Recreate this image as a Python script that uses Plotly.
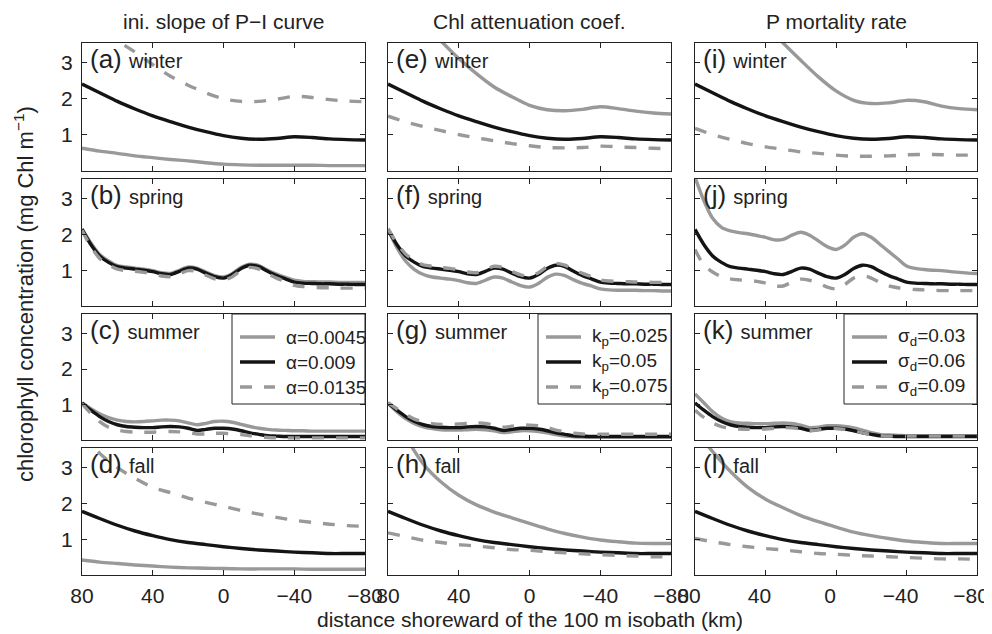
import plotly.graph_objects as go

# ---------------- data ----------------
x_coarse = [80, 70, 60, 50, 40, 30, 20, 10, 0, -10, -20, -30, -40, -50, -60, -70, -80]
x_fine = [80, 75, 70, 65, 60, 55, 50, 45, 40, 35, 30, 25, 20, 15, 10, 5, 0,
          -5, -10, -15, -20, -25, -30, -35, -40, -45, -50, -55, -60, -65, -70, -75, -80]

# winter (coarse grid)
winter_base = [2.41, 2.17, 1.93, 1.72, 1.53, 1.37, 1.22, 1.09, 0.98, 0.91, 0.88, 0.90, 0.95, 0.93, 0.89, 0.87, 0.86]
winter_alpha_lo = [0.63, 0.55, 0.49, 0.42, 0.37, 0.32, 0.28, 0.23, 0.19, 0.17, 0.16, 0.16, 0.16, 0.16, 0.15, 0.15, 0.15]
winter_alpha_hi = [4.10, 3.85, 3.60, 3.30, 2.95, 2.63, 2.38, 2.17, 2.00, 1.93, 1.93, 1.99, 2.07, 2.04, 1.98, 1.94, 1.92]
winter_kp_lo = [5.10, 4.60, 4.10, 3.60, 3.12, 2.70, 2.33, 2.06, 1.82, 1.70, 1.67, 1.71, 1.78, 1.73, 1.66, 1.61, 1.58]
winter_kp_hi = [1.52, 1.36, 1.23, 1.12, 1.01, 0.92, 0.84, 0.76, 0.70, 0.65, 0.64, 0.65, 0.69, 0.67, 0.65, 0.63, 0.62]
winter_sd_lo = [5.20, 4.95, 4.70, 4.40, 4.05, 3.55, 3.07, 2.61, 2.22, 1.96, 1.87, 1.89, 1.96, 1.92, 1.80, 1.73, 1.70]
winter_sd_hi = [1.18, 1.01, 0.88, 0.76, 0.67, 0.60, 0.53, 0.49, 0.44, 0.41, 0.41, 0.42, 0.45, 0.46, 0.45, 0.44, 0.44]

# spring (fine grid)
spring_base = [2.14, 1.72, 1.40, 1.22, 1.10, 1.06, 1.03, 1.00, 0.96, 0.90, 0.88, 0.97, 1.06, 1.03, 0.92, 0.82, 0.78,
               0.88, 1.05, 1.14, 1.10, 0.97, 0.85, 0.76, 0.67, 0.64, 0.63, 0.62, 0.62, 0.61, 0.61, 0.60, 0.60]
spring_alpha_lo = [2.16, 1.76, 1.44, 1.26, 1.13, 1.09, 1.06, 1.03, 0.99, 0.93, 0.91, 1.00, 1.09, 1.06, 0.95, 0.85, 0.81,
                   0.91, 1.08, 1.17, 1.13, 1.00, 0.89, 0.80, 0.72, 0.69, 0.68, 0.67, 0.67, 0.66, 0.66, 0.66, 0.66]
spring_alpha_hi = [2.12, 1.66, 1.33, 1.15, 1.03, 0.99, 0.97, 0.94, 0.90, 0.84, 0.82, 0.90, 0.99, 0.97, 0.86, 0.76, 0.72,
                   0.82, 0.99, 1.08, 1.03, 0.90, 0.78, 0.68, 0.58, 0.54, 0.52, 0.51, 0.51, 0.50, 0.50, 0.50, 0.50]
spring_kp_lo = [2.14, 1.64, 1.25, 1.02, 0.88, 0.81, 0.78, 0.75, 0.71, 0.65, 0.63, 0.72, 0.81, 0.78, 0.67, 0.57, 0.53,
                0.63, 0.80, 0.89, 0.85, 0.73, 0.63, 0.56, 0.48, 0.45, 0.44, 0.44, 0.44, 0.43, 0.43, 0.42, 0.42]
spring_kp_hi = [2.16, 1.76, 1.45, 1.27, 1.15, 1.11, 1.08, 1.05, 1.01, 0.95, 0.93, 1.02, 1.11, 1.08, 0.97, 0.87, 0.83,
                0.93, 1.10, 1.19, 1.14, 1.02, 0.91, 0.82, 0.73, 0.70, 0.69, 0.68, 0.67, 0.67, 0.66, 0.66, 0.66]
spring_sd_lo = [3.60, 2.95, 2.45, 2.20, 2.10, 2.05, 2.02, 1.97, 1.92, 1.85, 1.86, 1.98, 2.06, 1.98, 1.82, 1.66, 1.58,
                1.70, 1.92, 2.02, 1.92, 1.72, 1.52, 1.32, 1.12, 1.05, 1.02, 1.00, 0.99, 0.96, 0.94, 0.92, 0.91]
spring_sd_hi = [1.58, 1.15, 0.95, 0.82, 0.76, 0.73, 0.71, 0.69, 0.64, 0.56, 0.56, 0.67, 0.75, 0.72, 0.64, 0.53, 0.48,
                0.60, 0.78, 0.85, 0.78, 0.65, 0.56, 0.51, 0.48, 0.46, 0.45, 0.44, 0.43, 0.43, 0.43, 0.43, 0.43]

# summer (fine grid)
summer_base = [1.04, 0.84, 0.66, 0.52, 0.43, 0.38, 0.36, 0.35, 0.35, 0.37, 0.38, 0.37, 0.33, 0.27, 0.30, 0.33, 0.33,
               0.31, 0.26, 0.20, 0.16, 0.12, 0.11, 0.10, 0.10, 0.10, 0.10, 0.10, 0.10, 0.10, 0.10, 0.10, 0.10]
summer_alpha_lo = [1.05, 0.88, 0.74, 0.63, 0.56, 0.52, 0.51, 0.52, 0.54, 0.56, 0.56, 0.54, 0.48, 0.43, 0.47, 0.52, 0.53,
                   0.50, 0.44, 0.38, 0.33, 0.30, 0.28, 0.27, 0.26, 0.26, 0.25, 0.25, 0.25, 0.25, 0.25, 0.25, 0.25]
summer_alpha_hi = [1.02, 0.75, 0.52, 0.36, 0.28, 0.24, 0.22, 0.22, 0.22, 0.23, 0.24, 0.23, 0.20, 0.17, 0.17, 0.19, 0.19,
                   0.17, 0.15, 0.12, 0.09, 0.07, 0.06, 0.06, 0.06, 0.06, 0.06, 0.06, 0.06, 0.06, 0.06, 0.06, 0.06]
summer_kp_lo = [1.03, 0.80, 0.60, 0.46, 0.37, 0.32, 0.29, 0.28, 0.28, 0.29, 0.30, 0.29, 0.26, 0.21, 0.23, 0.26, 0.26,
                0.24, 0.20, 0.15, 0.11, 0.09, 0.08, 0.08, 0.08, 0.08, 0.08, 0.08, 0.08, 0.08, 0.08, 0.08, 0.08]
summer_kp_hi = [1.05, 0.88, 0.72, 0.59, 0.51, 0.46, 0.44, 0.44, 0.45, 0.47, 0.48, 0.47, 0.42, 0.36, 0.39, 0.42, 0.42,
                0.40, 0.35, 0.28, 0.23, 0.19, 0.17, 0.16, 0.16, 0.16, 0.16, 0.16, 0.16, 0.16, 0.16, 0.16, 0.16]
summer_sd_lo = [1.30, 1.05, 0.80, 0.62, 0.52, 0.48, 0.47, 0.46, 0.46, 0.47, 0.48, 0.47, 0.42, 0.35, 0.36, 0.40, 0.40,
                0.38, 0.34, 0.28, 0.21, 0.16, 0.14, 0.13, 0.12, 0.12, 0.12, 0.12, 0.12, 0.12, 0.12, 0.12, 0.12]
summer_sd_hi = [0.84, 0.64, 0.48, 0.38, 0.33, 0.31, 0.30, 0.30, 0.31, 0.33, 0.35, 0.34, 0.31, 0.26, 0.28, 0.32, 0.32,
                0.30, 0.26, 0.20, 0.15, 0.12, 0.11, 0.11, 0.11, 0.11, 0.11, 0.11, 0.11, 0.11, 0.11, 0.11, 0.11]

# fall (coarse grid)
fall_base = [1.78, 1.58, 1.39, 1.23, 1.10, 0.99, 0.91, 0.85, 0.79, 0.74, 0.70, 0.67, 0.64, 0.62, 0.60, 0.60, 0.60]
fall_alpha_lo = [0.42, 0.36, 0.32, 0.28, 0.25, 0.22, 0.20, 0.19, 0.18, 0.17, 0.17, 0.17, 0.17, 0.16, 0.16, 0.16, 0.16]
fall_alpha_hi = [3.95, 3.40, 3.00, 2.70, 2.45, 2.30, 2.15, 2.03, 1.92, 1.80, 1.70, 1.61, 1.53, 1.47, 1.42, 1.38, 1.36]
fall_kp_lo = [4.60, 3.85, 3.10, 2.60, 2.23, 1.96, 1.76, 1.60, 1.44, 1.29, 1.16, 1.06, 0.98, 0.93, 0.89, 0.88, 0.88]
fall_kp_hi = [1.18, 1.07, 0.97, 0.91, 0.85, 0.81, 0.76, 0.71, 0.69, 0.65, 0.62, 0.59, 0.57, 0.55, 0.53, 0.51, 0.51]
fall_sd_lo = [4.05, 3.45, 2.90, 2.45, 2.12, 1.88, 1.66, 1.49, 1.34, 1.20, 1.10, 1.02, 0.95, 0.91, 0.88, 0.88, 0.88]
fall_sd_hi = [1.02, 0.93, 0.85, 0.79, 0.74, 0.70, 0.65, 0.60, 0.58, 0.55, 0.53, 0.51, 0.49, 0.47, 0.45, 0.45, 0.44]

seasons = ["winter", "spring", "summer", "fall"]
column_titles = ["ini. slope of P\u2212I curve", "Chl attenuation coef.", "P mortality rate"]
panel_letters = [["a", "b", "c", "d"], ["e", "f", "g", "h"], ["i", "j", "k", "l"]]
legend_labels = [
    ["\u03b1=0.0045", "\u03b1=0.009", "\u03b1=0.0135"],
    ["k<sub>p</sub>=0.025", "k<sub>p</sub>=0.05", "k<sub>p</sub>=0.075"],
    ["\u03c3<sub>d</sub>=0.03", "\u03c3<sub>d</sub>=0.06", "\u03c3<sub>d</sub>=0.09"],
]
x_tick_vals = [80, 40, 0, -40, -80]
y_tick_vals = [1, 2, 3]
x_title = "distance shoreward of the 100 m isobath (km)"
y_title = "chlorophyll concentration (mg Chl m<sup>\u22121</sup>)"

season_x = {"winter": x_coarse, "spring": x_fine, "summer": x_fine, "fall": x_coarse}
series = {
    "winter": (winter_base, [(winter_alpha_lo, winter_alpha_hi), (winter_kp_lo, winter_kp_hi), (winter_sd_lo, winter_sd_hi)]),
    "spring": (spring_base, [(spring_alpha_lo, spring_alpha_hi), (spring_kp_lo, spring_kp_hi), (spring_sd_lo, spring_sd_hi)]),
    "summer": (summer_base, [(summer_alpha_lo, summer_alpha_hi), (summer_kp_lo, summer_kp_hi), (summer_sd_lo, summer_sd_hi)]),
    "fall": (fall_base, [(fall_alpha_lo, fall_alpha_hi), (fall_kp_lo, fall_kp_hi), (fall_sd_lo, fall_sd_hi)]),
}

# ---------------- layout geometry ----------------
# page body has an 8px margin, so the figure is 8px smaller on each axis and
# screen positions are converted by subtracting that offset
OFF = 8
W, H = 992 - OFF, 634 - OFF
col_px = [(82, 365), (388, 671), (695, 977)]
row_px = [(43, 171), (179, 306), (314, 440), (448, 575)]
col_label_shift = [0, 0, 6]
GRAY = "#999999"
BLACK = "#141414"
AX = "#222222"
FONT = "Liberation Sans, Arial, Helvetica, sans-serif"
LW = 3.4


def px_x(p):
    return (p - OFF) / W


def px_y(p):
    return 1 - (p - OFF) / H


fig = go.Figure()
layout = dict(
    width=W, height=H, margin=dict(l=0, r=0, t=0, b=0, autoexpand=False),
    paper_bgcolor="white", plot_bgcolor="white", showlegend=False,
    font=dict(family=FONT, size=20, color=AX),
)
annotations = []
shapes = []

styles = [
    dict(color=GRAY, width=LW, dash="solid"),
    dict(color=BLACK, width=LW, dash="solid"),
    dict(color=GRAY, width=LW, dash="12px,12px"),
]

k = 0
for c in range(3):
    for r, season in enumerate(seasons):
        k += 1
        xa = "x" if k == 1 else f"x{k}"
        ya = "y" if k == 1 else f"y{k}"
        base, variants = series[season]
        lo, hi = variants[c]
        xs = season_x[season]
        for ys, st in ((lo, styles[0]), (base, styles[1]), (hi, styles[2])):
            fig.add_trace(go.Scatter(
                x=xs, y=ys, mode="lines", xaxis=xa, yaxis=ya,
                line=dict(color=st["color"], width=st["width"], dash=st["dash"], shape="spline", smoothing=0.8),
                hoverinfo="skip",
            ))
        x0, x1 = col_px[c]
        y0, y1 = row_px[r]
        common = dict(showline=True, mirror="ticks", linecolor=AX, linewidth=1.3,
                      ticks="inside", ticklen=5, tickwidth=1.3, tickcolor=AX,
                      showgrid=False, zeroline=False, fixedrange=True, automargin=False,
                      ticklabeloverflow="allow",
                      tickfont=dict(family=FONT, size=21, color=AX))
        layout[f"xaxis{'' if k == 1 else k}"] = dict(
            common, domain=[px_x(x0), px_x(x1)], anchor=ya, range=[80, -80],
            tickvals=x_tick_vals, showticklabels=(r == 3), ticklabelstandoff=2,
            ticklabelshift=col_label_shift[c])
        layout[f"yaxis{'' if k == 1 else k}"] = dict(
            common, domain=[px_y(y1), px_y(y0)], anchor=xa, range=[0, 3.55],
            tickvals=y_tick_vals, showticklabels=(c == 0), ticklabelstandoff=4)
        # panel label
        annotations.append(dict(
            xref="paper", yref="paper", x=px_x(x0 + 6), y=px_y(y0 + 16),
            xanchor="left", yanchor="middle", showarrow=False,
            text=f"({panel_letters[c][r]}) <span style='font-size:20px'>{season}</span>",
            font=dict(family=FONT, size=26, color=AX)))
    # column title
    annotations.append(dict(
        xref="paper", yref="paper", x=px_x((col_px[c][0] + col_px[c][1]) / 2), y=px_y(22),
        xanchor="center", yanchor="middle", showarrow=False, text=column_titles[c],
        font=dict(family=FONT, size=21, color=AX)))
    # legend (in summer row)
    lx1 = col_px[c][1]
    lx0 = lx1 - 133
    ly0 = row_px[2][0]
    ly1 = ly0 + 90
    shapes.append(dict(type="rect", xref="paper", yref="paper",
                       x0=px_x(lx0), x1=px_x(lx1), y0=px_y(ly1), y1=px_y(ly0),
                       line=dict(color=AX, width=1), fillcolor="white", layer="above"))
    for i, lab in enumerate(legend_labels[c]):
        yy = ly0 + 23 + 25 * i
        st = styles[i]
        shapes.append(dict(type="line", xref="paper", yref="paper",
                           x0=px_x(lx0 + 8), x1=px_x(lx0 + 43), y0=px_y(yy), y1=px_y(yy),
                           line=dict(color=st["color"], width=st["width"], dash=st["dash"]),
                           layer="above"))
        annotations.append(dict(
            xref="paper", yref="paper", x=px_x(lx0 + 52), y=px_y(yy),
            xanchor="left", yanchor="middle", showarrow=False, text=lab,
            font=dict(family=FONT, size=19, color=AX)))

annotations.append(dict(
    xref="paper", yref="paper", x=px_x(530), y=px_y(619),
    xanchor="center", yanchor="middle", showarrow=False, text=x_title,
    font=dict(family=FONT, size=21, color=AX)))
annotations.append(dict(
    xref="paper", yref="paper", x=px_x(24), y=px_y(294),
    xanchor="center", yanchor="middle", showarrow=False, text=y_title, textangle=-90,
    font=dict(family=FONT, size=22, color=AX)))

layout["annotations"] = annotations
layout["shapes"] = shapes
fig.update_layout(**layout)
fig.write_html("out.html", config={"displayModeBar": False})
